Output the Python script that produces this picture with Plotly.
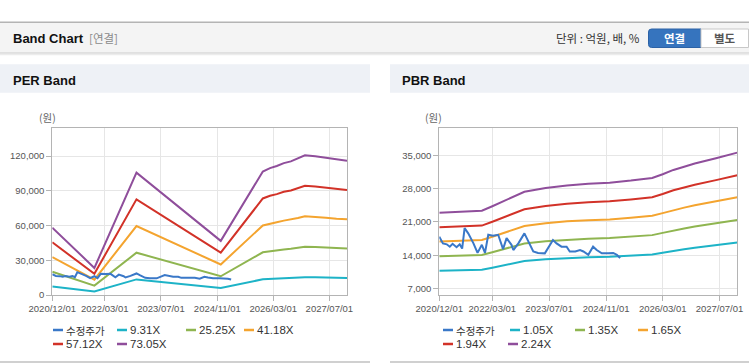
import plotly.graph_objects as go

W, H = 749, 364

# ---------------- data ----------------
price_dates = ["2020-12-01", "2021-01-01", "2021-02-03", "2021-03-01", "2021-03-25", "2021-04-28",
               "2021-05-25", "2021-06-15", "2021-07-06", "2021-08-06", "2021-09-20", "2021-10-25",
               "2021-12-01", "2021-12-28", "2022-01-25", "2022-03-06", "2022-04-20", "2022-06-01",
               "2022-07-01", "2022-08-12", "2022-08-28", "2022-10-10", "2022-12-01", "2023-01-03",
               "2023-02-15", "2023-03-28", "2023-05-25", "2023-08-03", "2023-09-03", "2023-10-15",
               "2023-11-28", "2023-12-25", "2024-02-10", "2024-03-22", "2024-04-20", "2024-06-01",
               "2024-07-12", "2024-08-12", "2024-09-25", "2024-11-18", "2025-01-01", "2025-02-01",
               "2025-03-01"]
price_values = [17900, 16500, 16300, 15800, 16400, 15700,
                16300, 15400, 19700, 18600, 16500, 14500,
                16200, 14500, 18300, 18100, 18300, 15300,
                17600, 16200, 15100, 16500, 18600, 16900,
                14800, 14500, 14400, 17200, 16500, 15800,
                15800, 14800, 14800, 15100, 14800, 14100,
                15800, 15100, 14400, 14400, 14500, 14100,
                13400]

per_dates = ["2020-12-01", "2021-12-01", "2022-12-01", "2024-12-01", "2025-12-01", "2026-02-01",
             "2026-04-01", "2026-06-01", "2026-08-01", "2026-10-01", "2026-12-01", "2027-03-01",
             "2027-06-01", "2027-09-01", "2027-12-01"]
per_9_31 = [7420, 2980, 13470, 5960, 13590, 13970, 14200, 14520, 14710, 15040, 15380, 15270, 15080, 14900, 14780]
per_25_25 = [20120, 8080, 36540, 16160, 36870, 37880, 38510, 39390, 39900, 40780, 41710, 41410, 40910, 40400, 40100]
per_41_18 = [32820, 13180, 59590, 26360, 60120, 61770, 62800, 64240, 65060, 66510, 68030, 67540, 66710, 65890, 65390]
per_57_12 = [45530, 18280, 82650, 36560, 83400, 85680, 87110, 89110, 90250, 92250, 94360, 93680, 92530, 91390, 90710]
per_73_05 = [58220, 23380, 105700, 46750, 106650, 109580, 111400, 113960, 115420, 117980, 120680, 119800, 118340, 116880, 116000]

pbr_dates = ["2020-12-01", "2021-06-01", "2021-12-01", "2022-03-01", "2022-06-01", "2022-09-01",
             "2022-12-01", "2023-06-01", "2023-12-01", "2024-06-01", "2024-12-01", "2025-06-01",
             "2025-12-01", "2026-03-01", "2026-06-01", "2026-09-01", "2026-12-01", "2027-06-01",
             "2027-12-01"]
pbr_1_05 = [10750, 10850, 10950, 11390, 11870, 12390, 12810, 13180, 13440, 13600, 13700, 13910, 14180, 14540, 14960, 15280, 15590, 16120, 16660]
pbr_1_35 = [13820, 13950, 14080, 14650, 15260, 15930, 16470, 16940, 17280, 17480, 17620, 17890, 18230, 18700, 19240, 19640, 20050, 20720, 21430]
pbr_1_65 = [16900, 17050, 17210, 17900, 18650, 19470, 20130, 20710, 21120, 21370, 21530, 21860, 22280, 22850, 23510, 24010, 24500, 25330, 26190]
pbr_1_94 = [19870, 20040, 20230, 21050, 21920, 22890, 23670, 24350, 24830, 25120, 25320, 25710, 26190, 26870, 27650, 28230, 28810, 29780, 30790]
pbr_2_24 = [22940, 23140, 23360, 24300, 25310, 26430, 27330, 28110, 28670, 29010, 29230, 29680, 30240, 31020, 31920, 32590, 33260, 34380, 35550]

per_names = ["수정주가", "9.31X", "25.25X", "41.18X", "57.12X", "73.05X"]
pbr_names = ["수정주가", "1.05X", "1.35X", "1.65X", "1.94X", "2.24X"]

x_tickvals = ["2020-12-01", "2022-03-01", "2023-07-01", "2024-11-01", "2026-03-01", "2027-07-01"]
per_yticks = [0, 30000, 60000, 90000, 120000]
pbr_yticks = [7000, 14000, 21000, 28000, 35000]

colors = ["#3a78c8", "#1db3c7", "#8fb550", "#f4a42f", "#d23228", "#8f4e9b"]

# ---------------- helpers ----------------
def fx(p):
    return p / W


def fy(p):
    return 1 - p / H


TICK_FONT = dict(family="Liberation Sans, Arial, sans-serif", size=9.5, color="#555555")
KR = "Noto Sans CJK KR, Liberation Sans, sans-serif"
LAT = "Liberation Sans, Arial, sans-serif"

fig = go.Figure()

per_series = [per_9_31, per_25_25, per_41_18, per_57_12, per_73_05]
pbr_series = [pbr_1_05, pbr_1_35, pbr_1_65, pbr_1_94, pbr_2_24]

for i, ys in enumerate(per_series):
    fig.add_trace(go.Scatter(x=per_dates, y=ys, name=per_names[i + 1], mode="lines",
                             line=dict(color=colors[i + 1], width=2), xaxis="x", yaxis="y",
                             showlegend=False))
fig.add_trace(go.Scatter(x=price_dates, y=price_values, name=per_names[0], mode="lines",
                         line=dict(color=colors[0], width=2), xaxis="x", yaxis="y", showlegend=False))

for i, ys in enumerate(pbr_series):
    fig.add_trace(go.Scatter(x=pbr_dates, y=ys, name=pbr_names[i + 1], mode="lines",
                             line=dict(color=colors[i + 1], width=2), xaxis="x2", yaxis="y2",
                             showlegend=False))
fig.add_trace(go.Scatter(x=price_dates, y=price_values, name=pbr_names[0], mode="lines",
                         line=dict(color=colors[0], width=2), xaxis="x2", yaxis="y2", showlegend=False))

axis_common = dict(showgrid=True, gridcolor="#e6e6e6", gridwidth=1, showline=True, mirror=True,
                   linecolor="#b4b4b4", linewidth=1, ticks="outside", ticklen=5, tickcolor="#b4b4b4",
                   tickfont=TICK_FONT, zeroline=False, fixedrange=True, automargin=False)

ydom = [fy(295), fy(128.3)]
fig.update_layout(
    template="none",
    width=W, height=H, margin=dict(l=0, r=0, t=0, b=0, pad=0, autoexpand=False),
    paper_bgcolor="#ffffff", plot_bgcolor="#ffffff",
    showlegend=False,
    xaxis=dict(domain=[fx(52.3), fx(347)], range=["2020-12-01", "2027-12-01"], type="date",
               tickvals=x_tickvals, tickformat="%Y/%m/%d", anchor="y", **axis_common),
    yaxis=dict(domain=ydom, range=[0, 144000], tickvals=per_yticks, tickformat=",", anchor="x",
               **axis_common),
    xaxis2=dict(domain=[fx(439.3), fx(737.3)], range=["2020-12-01", "2027-12-01"], type="date",
                tickvals=x_tickvals, tickformat="%Y/%m/%d", anchor="y2", **axis_common),
    yaxis2=dict(domain=ydom, range=[5660, 40660], tickvals=pbr_yticks, tickformat=",", anchor="x2",
                **axis_common),
)

shapes = []
annotations = []


def rect(x0, y0, x1, y1, fill, line_color=None, lw=0):
    shapes.append(dict(type="rect", xref="paper", yref="paper", x0=fx(x0), x1=fx(x1), y0=fy(y1), y1=fy(y0),
                       fillcolor=fill, line=dict(color=line_color or fill, width=lw), layer="below"))


def hline(x0, x1, y, color, w):
    shapes.append(dict(type="line", xref="paper", yref="paper", x0=fx(x0), x1=fx(x1), y0=fy(y), y1=fy(y),
                       line=dict(color=color, width=w), layer="above"))


def text(x, y, s, size=12, color="#333333", family=KR, anchor="left", bold=False):
    if bold:
        s = "<b>" + s + "</b>"
    annotations.append(dict(x=fx(x), y=fy(y), xref="paper", yref="paper", text=s, showarrow=False,
                            xanchor=anchor, yanchor="middle", borderpad=0,
                            font=dict(size=size, color=color, family=family)))


# header bar
rect(0, 23, W, 52, "#f4f4f4")
hline(0, W, 22.3, "#b4b4b4", 1.5)
hline(0, W, 53, "#d6d6d6", 1.5)
hline(0, W, 54.5, "#ececec", 1.5)
text(12, 38.5, "Band Chart", size=13, color="#111111", family=LAT, bold=True)
text(88, 38.5, "[연결]", size=11.5, color="#8a8a8a")
text(641, 38.5, "단위 : 억원, 배, %", size=11.5, color="#333333", anchor="right")
# buttons (rounded left corners on the active one)
r = 3
bx0, by0, bx1, by1 = 648.5, 29, 701, 47.5
btn_path = ("M {a},{b} L {c},{b} L {c},{d} L {a},{d} Q {x0},{d} {x0},{e} L {x0},{f} Q {x0},{b} {a},{b} Z").format(
    a=fx(bx0 + r), b=fy(by0), c=fx(bx1), d=fy(by1), x0=fx(bx0), e=fy(by1 - r), f=fy(by0 + r))
shapes.append(dict(type="path", xref="paper", yref="paper", path=btn_path,
                   fillcolor="#3674be", line=dict(color="#2c62a6", width=1), layer="below"))
rect(701, 29, 748.5, 47.5, "#ffffff", "#c8c8c8", 1)
text(674.5, 38.5, "연결", size=11.5, color="#ffffff", anchor="center", bold=True)
text(725, 38.5, "별도", size=11.5, color="#555555", anchor="center", bold=True)

# panels
for (a, b) in [(0, 370), (390, W)]:
    rect(a, 64.3, b, 92.7, "#eef1f6")
    hline(a, b, 362, "#d0d0d0", 2)
text(12, 80.5, "PER Band", size=13, color="#111111", family=LAT, bold=True)
text(401, 80.5, "PBR Band", size=13, color="#111111", family=LAT, bold=True)
text(47, 117.5, "(원)", size=10.5, color="#666666", anchor="center")
text(433, 117.5, "(원)", size=10.5, color="#666666", anchor="center")

# legends
per_leg = [(53, 330), (117, 330), (186, 330), (244, 330), (53, 344), (117, 344)]
pbr_leg = [(443, 330), (510, 330), (575, 330), (638, 330), (443, 344), (508, 344)]
for names, pos in [(per_names, per_leg), (pbr_names, pbr_leg)]:
    for i, (lx, ly) in enumerate(pos):
        hline(lx, lx + 10, ly, colors[i], 2.5)
        fam = KR if i == 0 else LAT
        text(lx + 12, ly, names[i], size=10.5 if i == 0 else 11.5, color="#333333", family=fam)

fig.update_layout(shapes=shapes, annotations=annotations)

fig.write_html("out.html", config={"displayModeBar": False},
               post_script="document.body.style.margin='0px';document.body.style.overflow='hidden';")
